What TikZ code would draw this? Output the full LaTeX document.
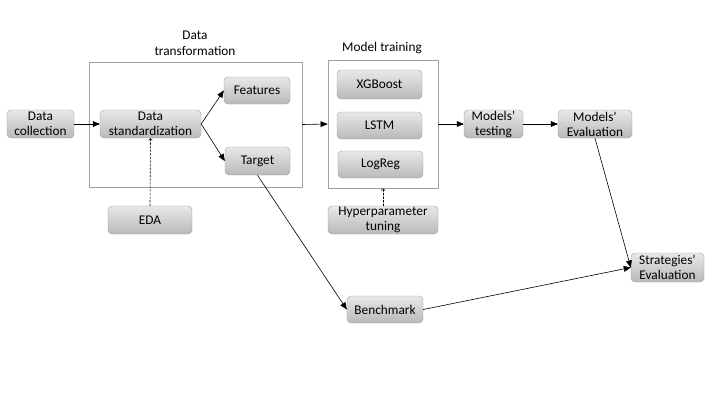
\documentclass[tikz,border=0pt]{standalone}
\usepackage{fontspec}
\setmainfont{Carlito}
\usetikzlibrary{arrows}

\begin{document}
\begin{tikzpicture}[x=1pt,y=-1pt,line cap=round,line join=round,>=triangle 45,
    stepbox/.style={draw=gray!75,rounded corners=4pt,top color=gray!18,bottom color=gray!55,
      align=center,inner sep=0pt,font=\fontsize{13.3}{15}\selectfont},
    groupbox/.style={draw=gray!75,line width=0.8pt,inner sep=0pt},
    grouptitle/.style={align=center,font=\fontsize{13.3}{16}\selectfont},
    flow/.style={->,line width=0.6pt},
    hint/.style={-to,line width=0.6pt,dash pattern=on 2pt off 1.6pt}]
      \useasboundingbox (0,0) rectangle (720,405);
      % data transformation group
      \node[groupbox,minimum width=213,minimum height=125] (transbox) at (195.5,124.5) {};
      \node[grouptitle] (transtitle) at (195,43) {Data\\transformation};
      \node[stepbox,minimum width=67,minimum height=28] (datacoll) at (40.5,124) {Data\\collection};
      \node[stepbox,minimum width=101,minimum height=28] (datastd) at (150.5,124) {Data\\standardization};
      \node[stepbox,minimum width=66,minimum height=27] (features) at (257,90.5) {Features};
      \node[stepbox,minimum width=65,minimum height=28] (target) at (257.5,161) {Target};
      \node[stepbox,minimum width=84,minimum height=28] (eda) at (150,220) {EDA};
      % model training group
      \node[groupbox,minimum width=110,minimum height=128] (trainbox) at (383,124) {};
      \node[grouptitle] (traintitle) at (382,48) {Model training};
      \node[stepbox,minimum width=85,minimum height=29] (xgb) at (379.5,84.5) {XGBoost};
      \node[stepbox,minimum width=85,minimum height=27] (lstm) at (379.5,125.5) {LSTM};
      \node[stepbox,minimum width=85,minimum height=27] (logreg) at (380.5,164.5) {LogReg};
      \node[stepbox,minimum width=110,minimum height=28] (hyper) at (383,220) {Hyperparameter\\tuning};
      % evaluation
      \node[stepbox,minimum width=59,minimum height=28] (testing) at (493.5,124) {Models'\\testing};
      \node[stepbox,minimum width=74,minimum height=28] (modeval) at (595,124) {Models'\\Evaluation};
      \node[stepbox,minimum width=73,minimum height=29] (strat) at (667.5,267.5) {Strategies'\\Evaluation};
      \node[stepbox,minimum width=76,minimum height=27] (bench) at (385,309.5) {Benchmark};
      % connectors
      \draw[flow] (datacoll.east) -- (datastd.west);
      \draw[flow] (datastd.east) -- (features.west);
      \draw[flow] (datastd.east) -- (target.west);
      \draw[hint] (eda.north) -- (datastd.south);
      \draw[flow] (transbox.east) -- (trainbox.west);
      \draw[hint] (hyper.north) -- (trainbox.south);
      \draw[flow] (trainbox.east) -- (testing.west);
      \draw[flow] (testing.east) -- (modeval.west);
      \draw[flow] (modeval.south) -- (strat.west);
      \draw[flow] (target.south) -- (bench.west);
      \draw[flow] (bench.east) -- (strat.west);
\end{tikzpicture}
\end{document}
